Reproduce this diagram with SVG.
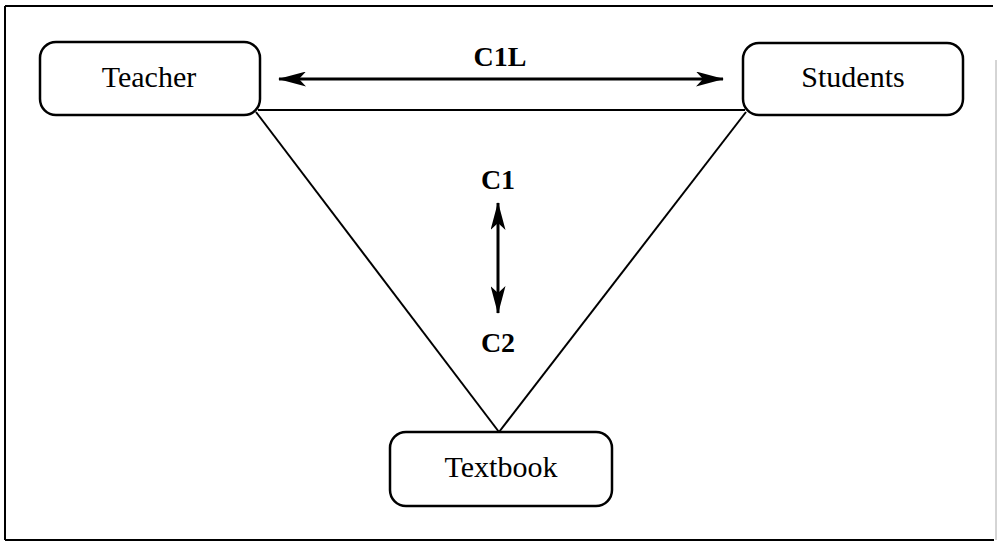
<svg xmlns="http://www.w3.org/2000/svg" width="997" height="541" viewBox="0 0 997 541">
<defs>
<marker id="ah" viewBox="0 0 28 15" refX="27" refY="7.5" markerWidth="28" markerHeight="15" markerUnits="userSpaceOnUse" orient="auto-start-reverse">
<path d="M0,0 L28,7.5 L0,15 L7,7.5 Z" fill="#000"/>
</marker>
<style>
.box{fill:#fff;stroke:#000;stroke-width:2.5}
.lbl{font-family:"Liberation Serif","Times New Roman",serif;font-size:30px;fill:#000;text-anchor:middle}
.c{font-family:"Liberation Serif","Times New Roman",serif;font-size:28px;font-weight:bold;fill:#000;text-anchor:middle}
.ln{stroke:#000;stroke-width:2;fill:none}
.arr{stroke:#000;stroke-width:3;fill:none}
</style>
</defs>
<rect width="997" height="541" fill="#fff"/>
<g id="frame">
<path d="M5,6 H993" class="ln"/>
<path d="M5,6 V540" class="ln" stroke-width="2.5"/>
<path d="M5,540 H994" class="ln"/>
<path d="M996,60 V540" stroke="#aaa" stroke-width="1" fill="none"/>
</g>
<g id="connectors">
<path d="M258,110 H745" class="ln"/>
<path d="M256,112 L499,432" class="ln"/>
<path d="M746,112 L499,432" class="ln"/>
<path d="M279,79 H723" class="arr" marker-start="url(#ah)" marker-end="url(#ah)"/>
<path d="M498,203 V313" class="arr" marker-start="url(#ah)" marker-end="url(#ah)"/>
</g>
<g id="teacher">
<rect x="40" y="42" width="220" height="73" rx="16" class="box"/>
<text x="149" y="87" class="lbl">Teacher</text>
</g>
<g id="students">
<rect x="743" y="43" width="220" height="72" rx="16" class="box"/>
<text x="853" y="87" class="lbl">Students</text>
</g>
<g id="textbook">
<rect x="390" y="432" width="222" height="74" rx="16" class="box"/>
<text x="501" y="477" class="lbl">Textbook</text>
</g>
<g id="labels">
<text x="500" y="66" class="c">C1L</text>
<text x="498" y="189" class="c">C1</text>
<text x="498" y="352" class="c">C2</text>
</g>
</svg>
